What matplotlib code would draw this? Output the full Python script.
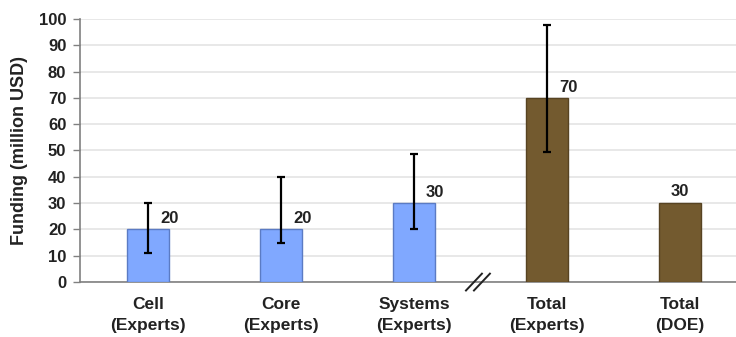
import matplotlib.pyplot as plt
import numpy as np

categories = ["Cell\n(Experts)", "Core\n(Experts)", "Systems\n(Experts)", "Total\n(Experts)", "Total\n(DOE)"]
values = [20, 20, 30, 70, 30]
err_low = [11, 15, 20, 49.5, None]
err_high = [30, 40, 48.5, 97.5, None]
labels = ["20", "20", "30", "70", "30"]

blue = "#80a8ff"
brown = "#735a2f"
colors = [blue, blue, blue, brown, brown]
edges = ["#5b7bc4", "#5b7bc4", "#5b7bc4", "#574322", "#574322"]

plt.rcParams['font.family'] = ['Liberation Sans', 'DejaVu Sans']
plt.rcParams['font.weight'] = 'bold'

fig = plt.figure(figsize=(7.36, 3.37), dpi=100)
ax = fig.add_axes([0.109, 0.163, 0.891, 0.781])

x = np.arange(len(values))
ax.bar(x, values, width=0.315, color=colors, edgecolor=edges, linewidth=1, zorder=3)

for i in range(len(values)):
    if err_low[i] is None:
        continue
    ax.errorbar(x[i], values[i],
                yerr=[[values[i] - err_low[i]], [err_high[i] - values[i]]],
                fmt='none', ecolor='black', elinewidth=1.6, capsize=3, capthick=1.6, zorder=4)

for i, lab in enumerate(labels):
    if err_low[i] is None:
        ax.text(x[i], values[i] + 1.5, lab, ha='center', va='bottom', fontsize=12,
                fontweight='bold', color='#222222', zorder=5)
    else:
        ax.text(x[i] + 0.09, values[i] + 1.2, lab, ha='left', va='bottom', fontsize=12,
                fontweight='bold', color='#222222', zorder=5)

ax.set_xlim(-0.51, 4.42)
ax.set_ylim(0, 100)
ax.set_yticks(np.arange(0, 101, 10))
ax.yaxis.grid(True, color='#e4e4e4', linewidth=1.2, zorder=0)
ax.set_axisbelow(True)

ax.set_xticks(x)
ax.set_xticklabels(categories, fontsize=12.5, fontweight='bold', color='#222222', linespacing=1.5)
ax.tick_params(axis='x', length=0, pad=11)
ax.tick_params(axis='y', length=5, width=1, color='#808080', labelsize=12, labelcolor='#222222', pad=5)
for t in ax.get_yticklabels():
    t.set_fontweight('bold')

for s in ['top', 'right']:
    ax.spines[s].set_visible(False)
ax.spines['left'].set_color('#808080')
ax.spines['bottom'].set_color('#808080')
ax.spines['left'].set_linewidth(1.2)
ax.spines['bottom'].set_linewidth(1.2)

ax.set_ylabel("Funding (million USD)", fontsize=13, fontweight='bold', color='#222222', labelpad=8)

# axis break marks between the groups
for dx in (-0.03, 0.03):
    ax.plot([2.48 + dx - 0.06, 2.48 + dx + 0.06], [-3.2, 3.2], color='#222222',
            linewidth=1.4, clip_on=False, zorder=6)

fig.savefig("out.png", dpi=100)
